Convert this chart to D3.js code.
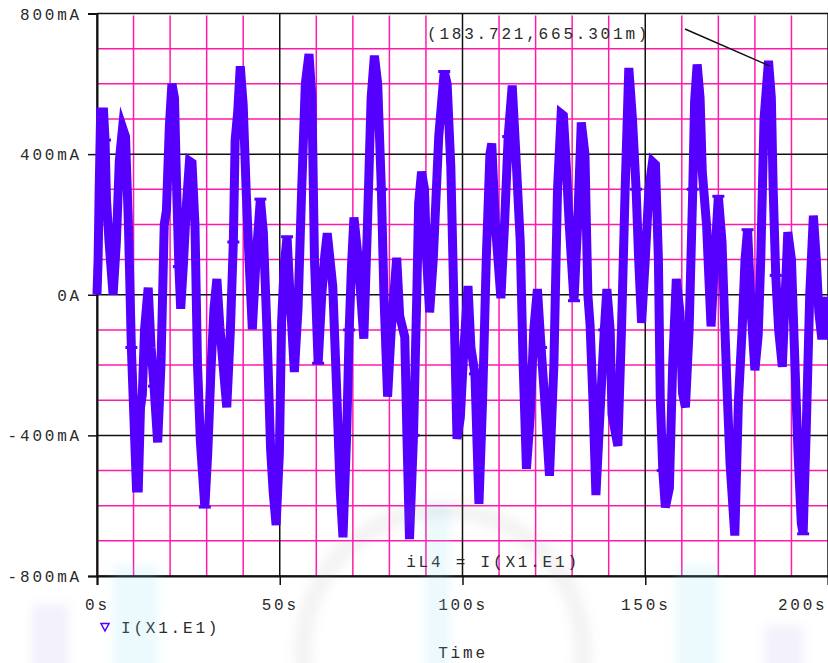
<!DOCTYPE html>
<html>
<head>
<meta charset="utf-8">
<script src="https://cdn.jsdelivr.net/npm/d3@7"></script>
<style>
    html, body { margin: 0; padding: 0; background: #fff; }
    svg { display: block; }
    text {
        font-family: "Liberation Mono", "DejaVu Sans Mono", monospace;
        font-size: 16px;
        letter-spacing: 2.8px;
        fill: #2a2a2a;
    }
</style>
</head>
<body>
<svg width="828" height="663"></svg>
<script>
// trace I(X1.E1)
var timeS = [
    0, 0.3, 0.6, 1.0, 1.8, 2.2, 2.6, 3.3, 4.4, 5.3, 6.1, 7.0, 7.8, 8.6, 9.4, 10.1, 10.8, 11.3, 11.9, 12.4,
    13.0, 14.0, 14.8, 15.6, 16.6, 17.5, 18.4, 19.0, 19.8, 20.5, 21.2, 21.8, 22.4, 22.9, 23.6, 24.5, 25.3, 26.0, 26.8, 27.5,
    28.3, 29.5, 30.3, 31.2, 32.0, 32.8, 33.6, 34.5, 35.5, 36.5, 37.3, 37.8, 38.5, 39.2, 40.0, 40.8, 41.6, 42.5, 43.5, 44.7,
    45.5, 46.5, 47.5, 48.2, 49.0, 49.9, 50.5, 51.2, 52.0, 52.8, 54.0, 55.0, 56.0, 57.0, 58.0, 58.8, 59.5, 60.5, 61.5, 62.3,
    63.0, 64.5, 65.5, 66.5, 67.3, 68.3, 69.0, 69.6, 70.3, 71.5, 73.0, 74.0, 75.0, 75.9, 76.8, 77.8, 78.5, 79.5, 80.5, 82.0,
    82.8, 84.2, 84.8, 85.5, 86.6, 87.5, 88.0, 88.8, 89.6, 90.2, 91.0, 92.0, 93.5, 95.0, 95.8, 96.8, 97.6, 98.5, 99.4, 100.4,
    101.5, 102.3, 103.4, 104.5, 105.5, 106.5, 107.5, 108.0, 109.0, 110.5, 111.5, 112.5, 113.6, 114.5, 115.8, 116.6, 117.5, 118.5, 119.5, 120.5,
    121.5, 122.5, 123.8, 125.0, 126.0, 127.0, 127.6, 128.4, 129.2, 130.5, 131.5, 132.5, 133.5, 134.3, 134.9, 135.7, 136.5, 137.8, 138.8, 139.5,
    140.4, 140.9, 142.5, 143.5, 144.5, 145.5, 146.5, 147.5, 148.2, 149.0, 150.0, 151.0, 152.0, 152.8, 153.6, 154.1, 154.8, 155.5, 156.6, 157.5,
    158.5, 159.5, 160.2, 161.0, 162.0, 163.0, 163.5, 164.2, 165.0, 165.6, 166.8, 167.4, 168.0, 169.0, 170.0, 171.0, 171.8, 172.5, 173.2, 174.5,
    175.5, 176.5, 177.3, 178.0, 179.0, 180.0, 180.9, 181.6, 182.5, 183.721, 184.5, 185.0, 185.7, 186.5, 187.5, 188.3, 189.0, 190.0, 190.8, 191.8,
    192.7, 193.2, 194.0, 195.0, 196.0, 196.8, 197.5, 198.2, 199.2, 199.6, 200
];
var currentMA = [
    0, 100, 300, 520, 520, 440, 270, 150, 0, 150, 380, 475, 450, 200, -150, -350, -550, -550, -320, -285,
    -100, 20, -150, -260, -420, -200, 200, 240, 480, 600, 560, 300, 80, -40, 80, 260, 380, 375, 200, -200,
    -420, -604, -450, -210, -40, 45, -90, -200, -320, -100, 150, 440, 520, 650, 540, 300, 100, -98, 100, 272,
    180, -100, -440, -560, -655, -450, -80, 80, 165, 0, -220, -40, 300, 600, 685, 560, 100, -195, 0, 110,
    175, 25, -250, -550, -690, -400, -100, 75, 220, 100, -125, 200, 560, 680, 600, 300, 0, -290, -100, 105,
    -60, -120, -400, -695, -400, 0, 260, 350, 300, 100, -50, 100, 450, 635, 600, 365, 0, -410, -350, -150,
    25, -150, -225, -595, -300, 100, 400, 430, 200, -10, 200, 450, 595, 420, 150, -200, -495, -350, -100, 16,
    -150, -300, -515, -200, 300, 515, 510, 365, 200, -17, 200, 490, 400, 0, -85, -300, -570, -300, -100, 16,
    -100, -340, -430, -100, 300, 645, 500, 300, 100, -80, 100, 300, 378, 370, 100, -290, -500, -605, -550, -200,
    45, -50, -280, -320, -100, 300, 550, 655, 560, 350, 195, 50, -90, 100, 280, 150, -100, -300, -480, -685,
    -300, -100, 100, 185, -50, -215, -115, 100, 500, 665.3, 560, 300, 55, -100, -205, 0, 178, 100, -150, -450,
    -650, -680, -400, 0, 225, 100, -50, -115, -115, -20, -10
];

var yTicks = [800, 400, 0, -400, -800];
var yTickLabels = ["800mA", "400mA", "0A", "-400mA", "-800mA"];
var xTicks = [0, 50, 100, 150, 200];
var xTickLabels = ["0s", "50s", "100s", "150s", "200s"];

var traceName = "I(X1.E1)";
var titleText = "iL4 = I(X1.E1)";
var cursorPoint = [183.721, 665.301];
var cursorLabel = "(183.721,665.301m)";

window.onload = main;

function main() {
    var svg = d3.select("svg");

    var left = 97, right = 828, top = 13.5, bottom = 576;

    var x = d3.scaleLinear().domain([0, 200]).range([left, right]);
    var y = d3.scaleLinear().domain([-800, 800]).range([bottom, top]);

    var traceColor = "#5500ff";
    var minorColor = "#ff1aae";

    var data = timeS.map(function (t, i) {
        return { t: t, v: currentMA[i] };
    });

    // minor grid (10s / 100mA)
    var grid = svg.append("g").attr("class", "grid");
    grid.selectAll(".vminor")
        .data(x.ticks(20).filter(function (d) { return d % 50 != 0; }))
        .enter()
        .append("line")
        .attr("x1", function (d) { return x(d); })
        .attr("x2", function (d) { return x(d); })
        .attr("y1", top + 2)
        .attr("y2", bottom)
        .style("stroke", minorColor)
        .style("stroke-width", 1.5);
    grid.selectAll(".hminor")
        .data(y.ticks(16).filter(function (d) { return d % 400 != 0; }))
        .enter()
        .append("line")
        .attr("x1", left)
        .attr("x2", right)
        .attr("y1", function (d) { return y(d); })
        .attr("y2", function (d) { return y(d); })
        .style("stroke", minorColor)
        .style("stroke-width", 1.5);

    // major grid
    grid.selectAll(".vmajor")
        .data(xTicks)
        .enter()
        .append("line")
        .attr("x1", function (d) { return x(d); })
        .attr("x2", function (d) { return x(d); })
        .attr("y1", top)
        .attr("y2", bottom)
        .style("stroke", "#111")
        .style("stroke-width", 1.5);
    grid.selectAll(".hmajor")
        .data(yTicks)
        .enter()
        .append("line")
        .attr("x1", left)
        .attr("x2", right)
        .attr("y1", function (d) { return y(d); })
        .attr("y2", function (d) { return y(d); })
        .style("stroke", "#111")
        .style("stroke-width", 1.5);

    // axes
    var yAxis = d3.axisLeft(y)
        .tickValues(yTicks)
        .tickSize(9)
        .tickPadding(6)
        .tickFormat(function (d, i) { return yTickLabels[i]; });
    var gy = svg.append("g")
        .attr("transform", "translate(" + left + ",0)")
        .call(yAxis);

    var xAxis = d3.axisBottom(x)
        .tickValues(xTicks)
        .tickSize(9)
        .tickPadding(10)
        .tickFormat(function (d, i) { return xTickLabels[i]; });
    var gx = svg.append("g")
        .attr("transform", "translate(0," + bottom + ")")
        .call(xAxis);

    [gx, gy].forEach(function (g) {
        g.select(".domain").style("stroke", "#111").style("stroke-width", 2);
        g.selectAll(".tick line").style("stroke", "#111").style("stroke-width", 1.5);
        g.attr("font-family", null).attr("font-size", null);
        g.selectAll(".tick text").style("fill", "#2a2a2a");
    });
    gy.selectAll(".tick text").attr("dy", "0.35em");
    gx.selectAll(".tick text").attr("dy", "0.95em");
    // last label is pulled inside the window
    gx.selectAll(".tick text")
        .filter(function (d) { return d == 200; })
        .attr("text-anchor", "end")
        .attr("dx", -1);

    // trace
    var line = d3.line()
        .x(function (d) { return x(d.t); })
        .y(function (d) { return y(d.v); });

    svg.append("path")
        .datum(data)
        .attr("d", line)
        .style("fill", "none")
        .style("stroke", traceColor)
        .style("stroke-width", 9)
        .style("stroke-linejoin", "miter")
        .style("stroke-miterlimit", 6);

    // trace markers
    svg.selectAll(".mark")
        .data(data.filter(function (d, i) { return i % 9 == 5; }))
        .enter()
        .append("line")
        .attr("x1", function (d) { return x(d.t) - 6; })
        .attr("x2", function (d) { return x(d.t) + 6; })
        .attr("y1", function (d) { return y(d.v); })
        .attr("y2", function (d) { return y(d.v); })
        .style("stroke", traceColor)
        .style("stroke-width", 3);

    // cursor annotation
    svg.append("line")
        .attr("x1", 685)
        .attr("y1", 29)
        .attr("x2", x(cursorPoint[0]) + 1)
        .attr("y2", y(cursorPoint[1]) + 5)
        .style("stroke", "#111")
        .style("stroke-width", 1.5);
    svg.append("text")
        .attr("x", 427)
        .attr("y", 33)
        .attr("dy", "0.35em")
        .text(cursorLabel);

    svg.append("text")
        .attr("x", 493)
        .attr("y", 561)
        .attr("dy", "0.35em")
        .attr("text-anchor", "middle")
        .text(titleText);

    // legend
    svg.append("path")
        .attr("d", "M101,623.5 L109,623.5 L105,631 Z")
        .style("fill", "none")
        .style("stroke", traceColor)
        .style("stroke-width", 1.5);
    svg.append("text")
        .attr("x", 121)
        .attr("y", 627)
        .attr("dy", "0.35em")
        .text(traceName);

    svg.append("text")
        .attr("x", 463)
        .attr("y", 652)
        .attr("dy", "0.35em")
        .attr("text-anchor", "middle")
        .text("Time");

    // faint, blurred watermark over the lower part of the picture
    svg.append("defs")
        .append("filter")
        .attr("id", "soft")
        .attr("x", "-50%").attr("y", "-50%")
        .attr("width", "200%").attr("height", "200%")
        .append("feGaussianBlur")
        .attr("stdDeviation", 5);

    var wm = svg.append("g")
        .attr("filter", "url(#soft)")
        .style("pointer-events", "none");
    wm.append("circle")
        .attr("cx", 443).attr("cy", 650).attr("r", 140)
        .style("fill", "none")
        .style("stroke", "#8a8a8a")
        .style("stroke-width", 18)
        .style("opacity", 0.1);
    [[113, 565, 45], [425, 505, 25], [676, 565, 42]].forEach(function (b) {
        wm.append("rect")
            .attr("x", b[0]).attr("y", b[1])
            .attr("width", b[2]).attr("height", 663 - b[1] + 10)
            .style("fill", "#7fd6ef")
            .style("opacity", 0.15);
    });
    [[32, 605, 37], [765, 625, 38]].forEach(function (b) {
        wm.append("rect")
            .attr("x", b[0]).attr("y", b[1])
            .attr("width", b[2]).attr("height", 663 - b[1] + 10)
            .style("fill", "#9d8fe8")
            .style("opacity", 0.12);
    });
}
</script>
</body>
</html>
